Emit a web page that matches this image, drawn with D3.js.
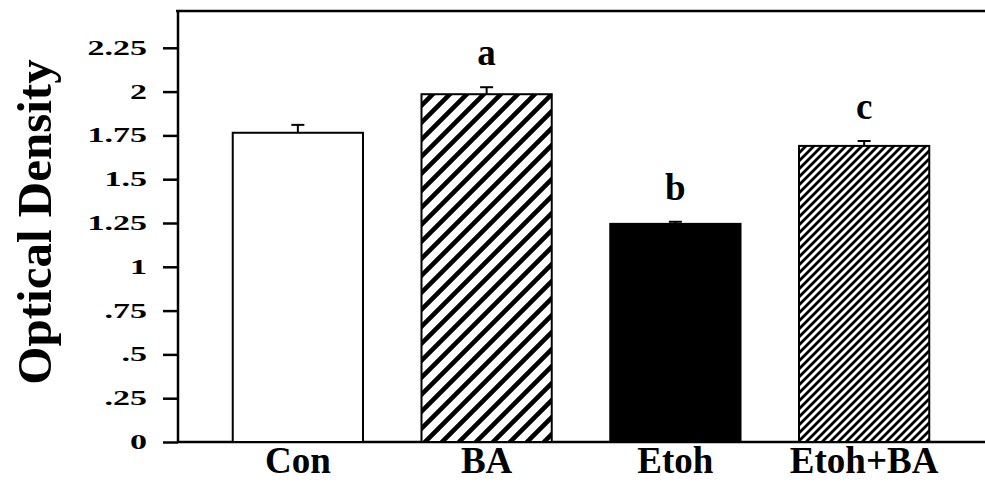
<!DOCTYPE html>
<html lang="en">
<head>
  <meta charset="UTF-8" />
  <title>Optical Density bar chart</title>
  <script src="https://cdn.jsdelivr.net/npm/d3@7"></script>
  <style>
    html, body { margin: 0; padding: 0; background: #fff; overflow: hidden; }
    svg { display: block; }
    text { font-family: "Liberation Serif", "Times New Roman", serif; font-weight: bold; fill: #000; }
  </style>
</head>
<body>
  <script>
    // ------ Data ------
    const categories = ["Con", "BA", "Etoh", "Etoh+BA"];
    const means      = [1.765, 1.985, 1.245, 1.69];
    const errors     = [0.045, 0.04, 0.012, 0.028];
    const fills      = ["white", "hatchWide", "black", "hatchFine"];
    const letters    = ["", "a", "b", "c"];
    const yTicks     = [0, 0.25, 0.5, 0.75, 1, 1.25, 1.5, 1.75, 2, 2.25];

    const width = 985, height = 483;

    const svg = d3.select("body").append("svg")
      .attr("width", width)
      .attr("height", height);

    // scales
    const x = d3.scaleBand()
      .domain(categories)
      .range([178, 984])
      .paddingInner(0.31)
      .paddingOuter(0.29);

    const y = d3.scaleLinear()
      .domain([0, 2.46])
      .range([442, 11]);

    // ------ hatch patterns ------
    const defs = svg.append("defs");
    function hatch(id, size, sw) {
      const p = defs.append("pattern")
        .attr("id", id)
        .attr("patternUnits", "userSpaceOnUse")
        .attr("width", size)
        .attr("height", size);
      p.append("rect").attr("width", size).attr("height", size).attr("fill", "white");
      // "/" lines, plus corner pieces so the stripes join up
      p.append("path")
        .attr("d", `M0,${size} L${size},0 M${-size / 2},${size / 2} L${size / 2},${-size / 2} M${size / 2},${size * 1.5} L${size * 1.5},${size / 2}`)
        .attr("stroke", "black")
        .attr("stroke-width", sw);
    }
    hatch("hatchWide", 17, 4.6);
    hatch("hatchFine", 8, 2.8);

    // ------ frame ------
    svg.append("line")
      .attr("x1", 176).attr("x2", width)
      .attr("y1", y.range()[1]).attr("y2", y.range()[1])
      .attr("stroke", "black").attr("stroke-width", 2.5);

    svg.append("line")
      .attr("x1", 178).attr("x2", width)
      .attr("y1", y(0)).attr("y2", y(0))
      .attr("stroke", "black").attr("stroke-width", 2.5);

    // ------ bars ------
    const bars = svg.append("g");
    bars.selectAll("rect")
      .data(categories)
      .enter().append("rect")
      .attr("x", d => x(d))
      .attr("y", (d, i) => y(means[i]))
      .attr("width", x.bandwidth())
      .attr("height", (d, i) => y(0) - y(means[i]))
      .attr("fill", (d, i) => fills[i].startsWith("hatch") ? `url(#${fills[i]})` : fills[i])
      .attr("stroke", "black")
      .attr("stroke-width", 2);

    // ------ error bars (upper whisker only) ------
    const capHalf = 6.5;
    const eb = svg.append("g").attr("stroke", "black").attr("stroke-width", 2);
    categories.forEach((c, i) => {
      const cx = x(c) + x.bandwidth() / 2;
      eb.append("line")
        .attr("x1", cx).attr("x2", cx)
        .attr("y1", y(means[i])).attr("y2", y(means[i] + errors[i]));
      eb.append("line")
        .attr("x1", cx - capHalf).attr("x2", cx + capHalf)
        .attr("y1", y(means[i] + errors[i])).attr("y2", y(means[i] + errors[i]));
    });

    // ------ significance letters ------
    svg.append("g").selectAll("text")
      .data(categories)
      .enter().append("text")
      .attr("x", d => x(d) + x.bandwidth() / 2)
      .attr("y", (d, i) => y(means[i] + errors[i]) - 22)
      .attr("text-anchor", "middle")
      .attr("font-size", 37)
      .text((d, i) => letters[i]);

    // ------ y axis ------
    // tick labels in the figure are stretched sideways
    const labelStretch = 1.7;
    const yAxis = d3.axisLeft(y)
      .tickValues(yTicks)
      .tickSize(15)
      .tickPadding(16)
      .tickFormat(d => d === 0 ? "0" : String(d).replace(/^0/, ""));

    const yg = svg.append("g")
      .attr("transform", "translate(178,0)")
      .call(yAxis);
    yg.select(".domain")
      .attr("d", `M0,${y.range()[1]}V${y(0)}`)
      .attr("stroke", "black").attr("stroke-width", 2.5);
    yg.selectAll(".tick line").attr("stroke", "black").attr("stroke-width", 2.5);
    yg.selectAll(".tick text")
      .attr("font-size", 20)
      .attr("font-family", null)
      .attr("fill", "black")
      .attr("transform", `scale(${labelStretch},1)`)
      .attr("x", -31 / labelStretch);

    // ------ x axis labels ------
    const xAxis = d3.axisBottom(x).tickSize(0).tickPadding(0);
    const xg = svg.append("g")
      .attr("transform", `translate(0,${y(0)})`)
      .call(xAxis);
    xg.select(".domain").remove();
    xg.selectAll(".tick text")
      .attr("font-size", 37)
      .attr("font-family", null)
      .attr("fill", "black")
      .attr("dy", null)
      .attr("y", 31);

    // ------ y title ------
    svg.append("text")
      .attr("transform", "translate(51,222) rotate(-90)")
      .attr("text-anchor", "middle")
      .attr("font-size", 49)
      .text("Optical Density");
  </script>
</body>
</html>
